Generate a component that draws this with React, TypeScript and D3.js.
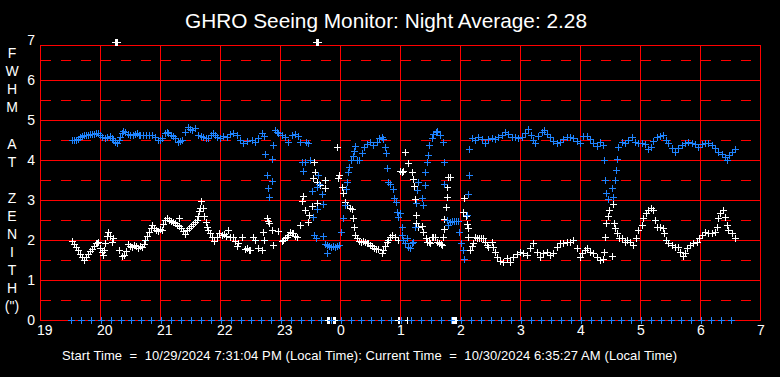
import React from 'react';
import * as d3 from 'd3';

// [minutes after 19:00, FWHM arcsec]
const seriesWhite: [number, number][] = [
  [32,1.97],[34,1.9],[36,1.82],[38,1.74],[40,1.66],[42,1.58],[44,1.5],[46,1.58],[48,1.65],[50,1.72],[52,1.78],[54,1.84],[56,1.93],[57,1.92],[58,1.95],[60,1.8],[62,1.7],[63,1.62],[64,1.75],[65,1.93],[67,2.1],[68,2.2],[70,2.1],[72,1.95],[73,2.05],
  [75,6.95],[76,6.95],[77,6.95],
  [79,1.75],[82,1.6],[84,1.62],[86,1.72],[88,1.9],[90,1.85],[92,1.82],[94,1.88],[96,1.85],[98,1.8],[100,1.85],[102,1.83],[104,1.9],[105,2.0],[107,2.1],[109,2.2],[111,2.3],[112,2.37],[114,2.3],[116,2.25],[118,2.22],[120,2.28],[122,2.25],[123,2.4],[125,2.5],[127,2.55],[129,2.5],[131,2.47],[133,2.45],[135,2.42],[137,2.38],[139,2.55],[139,2.35],[141,2.3],[143,2.22],[145,2.15],[147,2.25],[149,2.3],[151,2.35],[153,2.4],[155,2.45],[157,2.5],[158,2.6],[159,2.72],[160,2.8],[161,2.98],[163,2.8],[164,2.6],[166,2.45],[167,2.32],[168,2.25],[170,2.17],[172,2.08],[174,1.97],[177,2.08],[179,2.18],
  [182,2.12],[184,2.15],[186,2.1],[188,2.25],[190,2.08],[193,2.07],[195,1.98],[197,1.85],[198,1.93],[202,2.07],[205,1.78],[207,1.8],[209,1.76],[210,1.75],[213,2.07],[215,2.0],[218,1.8],[222,1.75],[223,2.2],[224,2.0],[227,2.55],[228,2.48],[229,2.42],[232,2.25],[233,1.87],[238,2.23],[242,1.97],[243,2.0],[245,2.05],[247,2.07],[248,2.13],[250,2.2],[252,2.18],[253,2.17],[255,2.1],[257,2.07],[260,2.38],[262,2.98],[263,3.1],[265,2.75],[268,2.45],[269,2.62],[272,2.84],[273,3.54],[274,3.96],[275,3.71],[277,3.46],[277,2.92],[280,3.38],[285,3.49],[285,3.3],
  [276,6.95],[277,6.95],[278,6.95],
  [297,4.33],[298,3.54],[299,3.62],[302,3.33],[303,3.18],[305,2.96],[307,2.88],[310,2.8],[312,2.77],[313,2.54],[314,2.33],[315,2.13],[317,2.05],[319,1.98],[321,1.95],[323,1.97],[325,1.95],[327,1.93],[328,1.92],[330,1.88],[332,1.85],[334,1.8],[336,1.78],[338,1.78],[342,1.67],[343,1.75],[345,1.85],[347,1.95],[348,2.0],[350,2.08],[352,2.12],[355,2.08],[358,2.0],
  [360,3.72],[362,3.7],[363,3.72],[365,4.19],[368,3.92],[372,3.71],[373,3.52],[373.5,3.35],[375,3.02],[375.5,2.63],[376,2.42],[378,2.33],[382,2.35],[383,2.2],[386,2.04],[387,1.96],[389,1.94],[390,1.92],[392,2.08],[393,2.08],[395,2.08],[397,1.96],[399,1.92],[401,1.9],[402,1.88],[403,2.08],[403.5,2.27],[404,2.52],[406,2.83],[407,3.08],[407.5,3.32],[408,3.58],[410,3.58],
  [423,2.71],[424,3.04],[426,2.6],[427,2.39],[427.5,2.29],[428,2.08],[430,1.75],[432,1.85],[433,1.92],[435,2.08],[437,2.05],[439,2.06],[441,2.04],[443,2.05],[445,1.96],[447,1.88],[448,1.83],[452,1.96],[453,1.83],[455,1.71],[457,1.58],[460,1.48],[463,1.46],[467,1.54],[470,1.46],[473,1.57],[477,1.65],[480,1.71],[483,1.67],[487,1.63],[490,1.79],[493,1.92],[497,1.71],[500,1.58],[503,1.67],[507,1.71],[510,1.63],[513,1.67],[517,1.83],[520,1.92],[523,1.92],[527,1.94],[530,1.96],[533,2.0],[537,1.79],[540,1.58],
  [542,1.67],[545,1.75],[547,1.79],[550,1.71],[553,1.67],[557,1.58],[560,1.5],[563,1.52],[564,1.71],[572,1.61],[565,2.08],[566,2.42],[568,2.6],[569,2.75],[573,2.89],[573.5,2.42],[575,2.29],[577,2.17],[579,2.04],[582,2.04],[585,1.96],[587,2.0],[590,1.96],[593,1.88],[596,2.04],[598,2.25],[602,2.38],[603,2.54],[606,2.67],[608,2.75],[611,2.81],[613,2.75],[615,2.5],[617,2.33],[620,2.33],[623,2.29],[624,2.17],[626,2.0],[628,1.93],[632,1.88],[635,1.83],[638,1.83],[640,1.71],[643,1.6],[645,1.67],[647,1.79],[650,1.88],[653,1.92],[657,1.96],[659,2.04],[662,2.13],[665,2.21],[668,2.17],[672,2.17],[675,2.21],[677,2.33],[678,2.54],[680,2.67],[683,2.75],[685,2.58],[687,2.38],[688,2.25],[692,2.17],[695,2.04],
  [287,0],[288,0],[289,0],[293,0],[294,0],[295,0],[358,0],[359,0],[367,0],[411,0],[412,0],[413,0],[414,0],[415,0],[416,0],[421,0],
];

const seriesBlue: [number, number][] = [
  [32,4.5],[34,4.5],[36,4.5],[38,4.52],[40,4.58],[42,4.6],[44,4.62],[46,4.62],[48,4.63],[50,4.65],[52,4.65],[54,4.66],[56,4.67],[58,4.68],[60,4.62],[62,4.58],[65,4.54],[67,4.57],[70,4.6],[72,4.55],[73,4.5],[75,4.46],[77,4.42],[79,4.5],[80,4.58],[82,4.68],[83,4.73],[85,4.7],[88,4.65],[90,4.63],[93,4.62],[95,4.64],[97,4.67],[99,4.63],[100,4.62],[103,4.62],[106,4.62],[109,4.62],[112,4.62],[115,4.58],[118,4.5],[120,4.5],[122,4.56],[125,4.67],[127,4.7],[128,4.68],[131,4.62],[133,4.6],[135,4.55],[138,4.46],[140,4.48],[142,4.5],[145,4.71],[148,4.83],[150,4.78],[152,4.75],[155,4.79],[158,4.62],[161,4.6],[163,4.58],[166,4.56],[168,4.54],[171,4.62],[173,4.67],[175,4.62],[177,4.58],
  [180,4.54],[183,4.6],[187,4.58],[190,4.65],[193,4.68],[197,4.62],[200,4.5],[203,4.42],[207,4.48],[212,4.5],[215,4.46],[218,4.54],[222,4.67],[224,4.6],[225,4.15],[227,3.62],[228,3.29],[229,3.08],[232,4.02],[232,3.48],[233,4.37],[235,4.75],[237,4.7],[238,4.67],[242,4.62],[245,4.58],[248,4.46],[252,4.62],[255,4.65],[258,4.6],[260,4.44],[262,3.94],[263,3.73],[265,3.96],[266,4.46],[268,4.42],[270,4.0],[272,3.23],[273,2.58],[274,2.13],[276,2.04],[277,3.32],[277,2.77],[278,3.62],[279,3.4],[282,3.14],[283,2.89],[283,2.11],[285,1.9],[287,1.67],[287,1.88],[289,1.85],[291,1.83],[293,1.85],[295,1.83],[297,1.85],[299,1.88],
  [301,2.2],[303,2.55],[305,2.87],[306,3.27],[307,3.45],[308,3.7],[309,3.83],[311,4.0],[313,4.1],[314,4.23],[314.5,4.35],[317,4.0],[319,4.0],[322,4.18],[324,4.32],[327,4.4],[330,4.46],[333,4.38],[337,4.46],[339,4.54],[342,4.58],[343,4.52],[345,4.33],[346,4.18],[347,3.79],[348,3.46],[350,3.39],[353,3.27],[353.5,3.04],[356,2.96],[356.5,2.71],[358,2.58],
  [360,2.67],[362,2.33],[362.5,2.13],[363,2.0],[365,1.92],[367,2.04],[368,1.83],[370,1.79],[372,1.92],[373,1.96],[375,2.33],[375.5,2.92],[377,3.25],[377.5,3.46],[382,3.04],[383,2.88],[385,3.38],[385.5,3.71],[387,3.94],[388,4.13],[389,4.38],[392,4.54],[393,4.65],[396,4.71],[397,4.73],[400,4.63],[403,4.44],[403.5,3.94],[404,3.4],[407,2.5],[408,2.38],[410,2.45],[412,2.47],[414,2.48],[416,2.47],[418,2.48],[419,2.19],[421,1.93],[423,1.75],[424,1.52],[427,2.63],[428,3.14],[428.5,3.63],[429,4.27],
  [432,4.54],[435,4.5],[438,4.58],[442,4.52],[445,4.43],[448,4.52],[452,4.54],[455,4.52],[458,4.57],[462,4.63],[465,4.71],[468,4.65],[472,4.57],[475,4.58],[478,4.54],[482,4.58],[485,4.67],[488,4.77],[491,4.63],[493,4.5],[495,4.43],[498,4.6],[502,4.71],[504,4.75],[507,4.65],[510,4.58],[513,4.48],[517,4.42],[520,4.46],[523,4.52],[527,4.57],[530,4.58],[533,4.54],[537,4.48],[540,4.42],
  [543,4.6],[547,4.6],[550,4.52],[553,4.42],[557,4.35],[560,4.46],[563,4.38],[564,4.0],[565,3.5],[566,3.17],[568,3.02],[572,3.29],[573,3.07],[575,3.5],[576,3.75],[577,4.02],[578,4.33],[582,4.46],[585,4.43],[588,4.5],[592,4.57],[595,4.46],[598,4.42],[602,4.43],[605,4.4],[608,4.27],[611,4.33],[613,4.48],[617,4.58],[620,4.6],[623,4.63],[626,4.5],[628,4.42],[632,4.29],[635,4.21],[638,4.29],[642,4.38],[645,4.43],[648,4.46],[652,4.43],[655,4.4],[658,4.33],[662,4.4],[665,4.42],[668,4.42],[672,4.38],[675,4.29],[678,4.21],[682,4.15],[685,4.08],[687,4.0],[689,4.13],[692,4.21],[695,4.27],
];

// blue markers plotted on the zero line (minutes after 19:00)
const blueZeroMinutes: number[] = [
  31,41,51,61,71,81,91,101,111,121,131,141,151,161,171,181,191,201,211,221,231,241,251,261,271,281,291,301,311,321,331,341,351,
  361,371,381,391,401,411,421,431,441,451,461,471,481,491,501,511,521,531,541,551,561,571,581,591,601,611,621,631,641,651,661,671,681,691,
];

const hourLabels: string[] = ['19','20','21','22','23','0','1','2','3','4','5','6','7'];
const yTickValues: number[] = [0,1,2,3,4,5,6,7];
const yHalfValues: number[] = [0.5,1.5,2.5,3.5,4.5,5.5,6.5];
const axisLetters: string[] = ['F','W','H','M','','A','T','','Z','E','N','I','T','H','(")'];
const titleText = 'GHRO Seeing Monitor: Night Average: 2.28';
const footerText = 'Start Time  =  10/29/2024 7:31:04 PM (Local Time): Current Time  =  10/30/2024 6:35:27 AM (Local Time)';

const W = 780, H = 377;
const FONT = '"Liberation Sans", Arial, Helvetica, sans-serif';
const RED = '#ff0000';
const BLUE = '#1f84ff';

export default function App() {
  const x = d3.scaleLinear().domain([0, 720]).range([40, 760]);
  const y = d3.scaleLinear().domain([0, 7]).range([320, 40]);
  const frameTop = 45;

  const plus = (pts: [number, number][]) =>
    pts
      .map(([m, v]) => {
        const cx = Math.round(x(m));
        const cy = Math.round(y(v));
        return `M${cx - 3},${cy + 0.5}H${cx + 4}M${cx + 0.5},${cy - 3}V${cy + 4}`;
      })
      .join('');

  const blueZero: [number, number][] = blueZeroMinutes.map((m) => [m, 0]);

  return (
    <svg width={W} height={H} style={{ position: 'absolute', left: 0, top: 0, display: 'block' }} fontFamily={FONT}>
      <rect x={0} y={0} width={W} height={H} fill="#000" />
      <text x={386} y={28} fill="#fff" fontSize={20.8} textAnchor="middle">{titleText}</text>

      {/* dashed half grid */}
      {yHalfValues.map((v) => (
        <line key={'h' + v} x1={41} x2={760} y1={Math.round(y(v)) + 0.5} y2={Math.round(y(v)) + 0.5}
          stroke={RED} strokeWidth={1} strokeDasharray="10,10" />
      ))}
      {/* solid horizontal grid */}
      {yTickValues.filter((v) => v > 0 && v < 7).map((v) => (
        <line key={'g' + v} x1={40} x2={760} y1={Math.round(y(v)) + 0.5} y2={Math.round(y(v)) + 0.5} stroke={RED} strokeWidth={1} />
      ))}
      {/* vertical hour grid */}
      {hourLabels.map((_, i) => (
        <line key={'v' + i} x1={Math.round(x(i * 60)) + 0.5} x2={Math.round(x(i * 60)) + 0.5} y1={frameTop} y2={320}
          stroke={RED} strokeWidth={1} />
      ))}
      <rect x={40.5} y={frameTop + 0.5} width={720} height={275} fill="none" stroke={RED} strokeWidth={1} />

      {/* y tick labels */}
      {yTickValues.map((v) => (
        <text key={'yl' + v} x={35} y={y(v) + 5} fill="#fff" fontSize={14} textAnchor="end">{v}</text>
      ))}
      {/* x tick labels */}
      {hourLabels.map((lab, i) => (
        <text key={'xl' + i} x={x(i * 60) - 3} y={335} fill="#fff" fontSize={14} textAnchor="start">{lab}</text>
      ))}
      {/* y axis title */}
      {axisLetters.map((c, i) => (
        <text key={'al' + i} x={12} y={53 + i * 18.1 + 5} fill="#fff" fontSize={14} textAnchor="middle">{c}</text>
      ))}

      <path d={plus(seriesWhite)} stroke="#fff" strokeWidth={1} fill="none" />
      <path d={plus(seriesBlue)} stroke={BLUE} strokeWidth={1} fill="none" />
      <path d={plus(blueZero)} stroke={BLUE} strokeWidth={1} fill="none" />

      <text x={62} y={360} fill="#fff" fontSize={13} textAnchor="start" xmlSpace="preserve"
        textLength={615} lengthAdjust="spacing" style={{ whiteSpace: 'pre' }}>{footerText}</text>
    </svg>
  );
}
